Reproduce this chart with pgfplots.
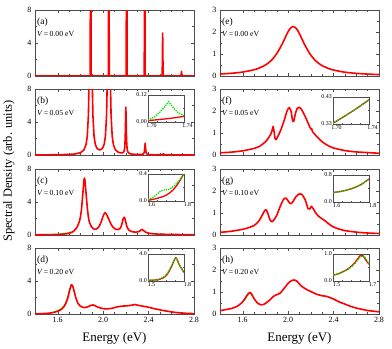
\documentclass[border=0pt]{standalone}
\usepackage{pgfplots}
\pgfplotsset{compat=1.18}
\usepackage{fontspec}
\setmainfont{Liberation Serif}
\definecolor{specred}{RGB}{255,0,0}
\definecolor{specgreen}{RGB}{0,225,0}
\pgfplotsset{
  panel/.style={scale only axis, width=159bp, height=66bp, anchor=north west,
    xmin=1.4, xmax=2.8, xtick={1.6,2.0,2.4,2.8}, minor x tick num=3,
    xticklabels={}, tick align=inside, major tick length=3bp, minor tick length=1.8bp,
    axis line style={line width=0.5bp, black!70},
    every tick/.style={black!70, line width=0.4bp},
    ticklabel style={font=\fontsize{8}{8}\selectfont},
    /pgf/number format/assume math mode=true},
  leftp/.style={panel, ymin=0, ymax=8, ytick={0,4,8}, minor y tick num=1},
  rightp/.style={panel, ymin=0, ymax=3, ytick={0,1,2,3}, minor y tick num=1},
  bottomrow/.style={xticklabels={1.6,2.0,2.4,2.8}},
  inset/.style={scale only axis, width=36bp, height=27bp, anchor=north east,
    tick align=inside, major tick length=2bp, minor tick length=1.2bp,
    minor x tick num=3, minor y tick num=1,
    axis background/.style={fill=white},
    axis line style={line width=0.5bp, black!70},
    every tick/.style={black!70, line width=0.4bp},
    ticklabel style={font=\fontsize{6}{6}\selectfont, inner sep=1bp},
    xticklabel style={xshift=3.5bp},
    /pgf/number format/assume math mode=true},
  redline/.style={specred, line width=1.6bp, line join=round, no marks},
  greenline/.style={specgreen, line width=1.4bp, densely dotted, no marks},
  redins/.style={specred, line width=1.3bp, no marks},
  greenins/.style={specgreen, line width=1.3bp, densely dotted, no marks},
}
\newcommand{\plab}[2]{%
  \node[anchor=west, font=\fontsize{9.5}{9.5}\selectfont, inner sep=0pt] at ([xshift=2bp, yshift=-12bp]rel axis cs:0,1) {#1};
  \node[anchor=west, font=\fontsize{7.8}{7.8}\selectfont, inner sep=0pt] at ([xshift=2bp, yshift=-24bp]rel axis cs:0,1) {\textit{V}\,=\,#2 eV};}
\begin{document}
\begin{tikzpicture}
\path[use as bounding box] (0,0) rectangle (392bp,-349bp);

% (a)
\begin{axis}[leftp, at={(35bp,-10bp)}]
\addplot[redline] coordinates {(1.40,0.02)(1.886,0.02)(1.89,30)(1.894,0.02)(2.046,0.02)(2.05,30)(2.054,0.02)(2.203,0.02)(2.207,30)(2.211,0.02)(2.362,0.02)(2.366,30)(2.370,0.02)(2.520,0.02)(2.524,5.2)(2.528,0.02)(2.686,0.02)(2.69,0.55)(2.694,0.02)(2.80,0.02)};
\plab{(a)}{0.00}
\end{axis}

% (b)
\begin{axis}[leftp, at={(35bp,-89bp)}]
\addplot[redline] coordinates {(1.40,0.013)(1.50,0.02)(1.60,0.034)(1.70,0.071)(1.75,0.12)(1.80,0.28)(1.83,0.59)(1.85,1.28)(1.86,2.22)(1.87,4.76)(1.875,8.06)(1.88,16)(1.885,40)(1.89,80)(1.895,40)(1.90,16.1)(1.905,8.1)(1.91,4.8)(1.92,2.28)(1.93,1.37)(1.94,0.96)(1.95,0.75)(1.97,0.62)(1.99,0.75)(2.00,0.96)(2.01,1.37)(2.02,2.28)(2.03,4.8)(2.035,8.1)(2.04,16.1)(2.045,40)(2.05,80)(2.055,40)(2.06,16)(2.065,8.07)(2.07,4.77)(2.08,2.22)(2.09,1.29)(2.10,0.85)(2.11,0.60)(2.13,0.36)(2.15,0.27)(2.17,0.26)(2.18,0.36)(2.185,0.51)(2.19,0.93)(2.194,1.91)(2.197,3.84)(2.20,5.8)(2.203,3.84)(2.206,1.9)(2.21,0.91)(2.215,0.48)(2.22,0.32)(2.23,0.19)(2.25,0.11)(2.30,0.058)(2.34,0.063)(2.355,0.13)(2.362,0.32)(2.366,0.74)(2.37,1.44)(2.374,0.74)(2.378,0.32)(2.385,0.13)(2.40,0.05)(2.45,0.022)(2.52,0.03)(2.525,0.07)(2.53,0.16)(2.535,0.07)(2.54,0.03)(2.60,0.011)(2.80,0.006)};
\plab{(b)}{0.05}
\end{axis}
\begin{axis}[inset, at={(184bp,-95bp)}, xmin=1.70, xmax=1.74, ymin=0, ymax=0.12,
  xtick={1.70,1.74}, xticklabels={1.70,1.74}, ytick={0,0.12}, yticklabels={0.00,0.12}]
\addplot[redins] coordinates {(1.70,0.006)(1.71,0.01)(1.72,0.014)(1.73,0.019)(1.74,0.025)};
\addplot[greenins] coordinates {(1.70,0.008)(1.707,0.022)(1.713,0.043)(1.719,0.07)(1.723,0.09)(1.728,0.064)(1.733,0.043)(1.738,0.032)(1.74,0.028)};
\end{axis}

% (c)
\begin{axis}[leftp, at={(35bp,-169bp)}]
\addplot[greenline, smooth] coordinates {(1.60,0.09)(1.63,0.14)(1.66,0.2)(1.70,0.27)(1.74,0.47)};
\addplot[redline, smooth, tension=0.4] coordinates {(1.40,0.02)(1.50,0.04)(1.60,0.07)(1.65,0.11)(1.70,0.2)(1.74,0.45)(1.77,0.95)(1.79,1.6)(1.80,2.2)(1.81,3.2)(1.82,4.8)(1.83,6.5)(1.835,6.9)(1.84,6.6)(1.85,5.0)(1.86,3.4)(1.87,2.2)(1.88,1.5)(1.90,0.95)(1.92,0.72)(1.94,0.72)(1.96,0.95)(1.98,1.5)(2.00,2.3)(2.015,2.7)(2.03,2.5)(2.05,1.9)(2.07,1.3)(2.09,0.9)(2.11,0.7)(2.13,0.65)(2.15,0.8)(2.165,1.3)(2.175,1.9)(2.185,2.15)(2.195,1.8)(2.21,1.0)(2.23,0.55)(2.26,0.38)(2.29,0.35)(2.32,0.45)(2.34,0.68)(2.355,0.55)(2.38,0.3)(2.42,0.17)(2.50,0.1)(2.60,0.07)(2.70,0.05)(2.80,0.04)};
\plab{(c)}{0.10}
\end{axis}
\begin{axis}[inset, at={(184bp,-174bp)}, xmin=1.6, xmax=1.8, ymin=0, ymax=0.4,
  xtick={1.6,1.8}, xticklabels={1.6,1.8}, ytick={0,0.4}, yticklabels={0.0,0.4}]
\addplot[redins, smooth] coordinates {(1.60,0.01)(1.644,0.035)(1.70,0.084)(1.739,0.163)(1.768,0.262)(1.787,0.346)(1.80,0.41)};
\addplot[greenins, smooth] coordinates {(1.60,0.025)(1.634,0.064)(1.663,0.133)(1.686,0.163)(1.716,0.173)(1.739,0.21)(1.762,0.27)(1.787,0.35)(1.80,0.41)};
\end{axis}

% (d)
\begin{axis}[leftp, bottomrow, at={(35bp,-248bp)}]
\addplot[greenline, smooth] coordinates {(1.55,0.17)(1.60,0.4)(1.63,0.65)(1.65,0.92)(1.67,1.4)(1.69,2.1)(1.705,2.9)(1.72,3.5)};
\addplot[redline, smooth, tension=0.4] coordinates {(1.40,0.02)(1.50,0.07)(1.55,0.15)(1.60,0.33)(1.63,0.55)(1.65,0.8)(1.67,1.25)(1.69,2.0)(1.705,2.9)(1.72,3.55)(1.73,3.45)(1.74,3.0)(1.76,1.95)(1.78,1.25)(1.80,0.95)(1.83,0.78)(1.86,0.85)(1.89,1.03)(1.91,1.1)(1.93,1.0)(1.96,0.8)(2.00,0.65)(2.04,0.62)(2.08,0.7)(2.12,0.85)(2.16,0.95)(2.20,0.98)(2.24,1.04)(2.28,1.15)(2.31,1.05)(2.35,0.95)(2.40,0.82)(2.45,0.65)(2.50,0.5)(2.55,0.37)(2.60,0.26)(2.65,0.17)(2.70,0.11)(2.75,0.07)(2.80,0.05)};
\plab{(d)}{0.20}
\end{axis}
\begin{axis}[inset, at={(184bp,-254bp)}, xmin=1.5, xmax=1.8, ymin=0, ymax=4,
  xtick={1.5,1.8}, xticklabels={1.5,1.8}, ytick={0,4}, yticklabels={0.0,4.0}]
\addplot[redins, smooth] coordinates {(1.50,0.09)(1.594,0.23)(1.651,0.78)(1.694,2.07)(1.731,3.45)(1.76,2.44)(1.80,1.24)};
\addplot[greenins, smooth] coordinates {(1.50,0.1)(1.594,0.28)(1.651,0.92)(1.694,2.2)(1.731,3.4)(1.76,2.4)(1.80,1.2)};
\end{axis}

% (e)
\begin{axis}[rightp, at={(220bp,-10bp)}]
\addplot[redline, smooth] coordinates {(1.40,0.09)(1.50,0.124)(1.60,0.18)(1.70,0.285)(1.75,0.373)(1.80,0.50)(1.85,0.70)(1.90,1.02)(1.95,1.48)(1.98,1.81)(2.00,2.02)(2.02,2.17)(2.045,2.25)(2.07,2.17)(2.09,2.02)(2.11,1.81)(2.14,1.48)(2.19,1.02)(2.24,0.70)(2.29,0.50)(2.34,0.373)(2.39,0.285)(2.49,0.18)(2.59,0.124)(2.69,0.09)(2.80,0.066)};
\plab{(e)}{0.00}
\end{axis}

% (f)
\begin{axis}[rightp, at={(220bp,-89bp)}]
\addplot[redline, smooth, tension=0.4] coordinates {(1.40,0.1)(1.50,0.13)(1.60,0.19)(1.70,0.3)(1.75,0.4)(1.80,0.6)(1.83,0.8)(1.85,0.98)(1.86,1.15)(1.868,1.3)(1.875,1.1)(1.885,0.75)(1.893,0.7)(1.91,0.85)(1.94,1.2)(1.97,1.65)(1.99,2.0)(2.01,2.15)(2.025,2.0)(2.04,1.55)(2.05,1.55)(2.065,1.9)(2.08,2.12)(2.10,2.17)(2.12,2.05)(2.15,1.75)(2.18,1.4)(2.20,1.18)(2.207,1.2)(2.215,1.05)(2.225,1.0)(2.25,0.85)(2.30,0.6)(2.35,0.43)(2.40,0.32)(2.50,0.2)(2.60,0.14)(2.70,0.11)(2.80,0.08)};
\plab{(f)}{0.05}
\end{axis}
\begin{axis}[inset, at={(369bp,-97bp)}, xmin=1.70, xmax=1.74, ymin=0.33, ymax=0.43,
  xtick={1.70,1.74}, xticklabels={1.70,1.74}, ytick={0.33,0.43}, yticklabels={0.33,0.43}]
\addplot[redins] coordinates {(1.70,0.333)(1.71,0.353)(1.72,0.374)(1.73,0.396)(1.74,0.42)};
\addplot[greenins] coordinates {(1.70,0.333)(1.71,0.353)(1.72,0.374)(1.73,0.396)(1.74,0.42)};
\end{axis}

% (g)
\begin{axis}[rightp, at={(220bp,-169bp)}]
\addplot[redline, smooth, tension=0.4] coordinates {(1.40,0.12)(1.50,0.17)(1.60,0.26)(1.65,0.33)(1.70,0.43)(1.74,0.62)(1.77,0.88)(1.79,1.08)(1.805,1.15)(1.82,1.0)(1.84,0.7)(1.855,0.6)(1.87,0.65)(1.90,0.9)(1.93,1.3)(1.96,1.62)(1.98,1.68)(2.00,1.55)(2.02,1.42)(2.04,1.5)(2.07,1.75)(2.10,1.87)(2.12,1.85)(2.15,1.6)(2.175,1.2)(2.19,1.18)(2.205,1.3)(2.22,1.2)(2.25,0.95)(2.28,0.8)(2.31,0.7)(2.34,0.58)(2.38,0.42)(2.43,0.3)(2.50,0.2)(2.60,0.13)(2.70,0.09)(2.80,0.07)};
\plab{(g)}{0.10}
\end{axis}
\begin{axis}[inset, at={(369bp,-175bp)}, xmin=1.6, xmax=1.8, ymin=0, ymax=0.8,
  xtick={1.6,1.8}, xticklabels={1.6,1.8}, ytick={0,0.8}, yticklabels={0.0,0.8}]
\addplot[redins, smooth] coordinates {(1.60,0.28)(1.65,0.32)(1.70,0.39)(1.75,0.5)(1.80,0.68)};
\addplot[greenins, smooth] coordinates {(1.60,0.28)(1.65,0.32)(1.70,0.39)(1.75,0.5)(1.80,0.68)};
\end{axis}

% (h)
\begin{axis}[rightp, bottomrow, at={(220bp,-248bp)}]
\addplot[greenline, smooth] coordinates {(1.59,0.5)(1.62,0.68)(1.645,0.88)(1.66,0.93)(1.675,0.9)(1.69,0.78)};
\addplot[redline, smooth, tension=0.4] coordinates {(1.40,0.15)(1.45,0.2)(1.50,0.25)(1.55,0.35)(1.59,0.5)(1.62,0.7)(1.645,0.9)(1.665,0.98)(1.68,0.9)(1.70,0.7)(1.73,0.5)(1.76,0.42)(1.79,0.45)(1.83,0.6)(1.87,0.8)(1.90,0.88)(1.93,0.95)(1.97,1.2)(2.01,1.45)(2.05,1.55)(2.08,1.48)(2.11,1.3)(2.15,1.15)(2.20,1.02)(2.25,0.9)(2.30,0.83)(2.34,0.8)(2.40,0.68)(2.45,0.55)(2.50,0.45)(2.55,0.35)(2.60,0.27)(2.70,0.16)(2.80,0.1)};
\plab{(h)}{0.20}
\end{axis}
\begin{axis}[inset, at={(369bp,-254bp)}, xmin=1.5, xmax=1.7, ymin=0, ymax=1,
  xtick={1.5,1.7}, xticklabels={1.5,1.7}, ytick={0,1}, yticklabels={0.0,1.0}]
\addplot[redins, smooth] coordinates {(1.50,0.21)(1.53,0.27)(1.56,0.36)(1.59,0.48)(1.62,0.67)(1.64,0.85)(1.655,0.96)(1.67,0.9)(1.685,0.75)(1.70,0.62)};
\addplot[greenins, smooth] coordinates {(1.50,0.21)(1.53,0.27)(1.56,0.35)(1.59,0.46)(1.62,0.63)(1.64,0.8)(1.655,0.9)(1.668,0.94)(1.68,0.85)(1.70,0.64)};
\end{axis}

\node[rotate=90, font=\fontsize{12.5}{12.5}\selectfont] at (9bp,-171bp) {Spectral Density (arb. units)};
\node[anchor=base, font=\fontsize{13}{13}\selectfont] at (114.5bp,-341.5bp) {Energy (eV)};
\node[anchor=base, font=\fontsize{13}{13}\selectfont] at (299.5bp,-341.5bp) {Energy (eV)};
\end{tikzpicture}
\end{document}
